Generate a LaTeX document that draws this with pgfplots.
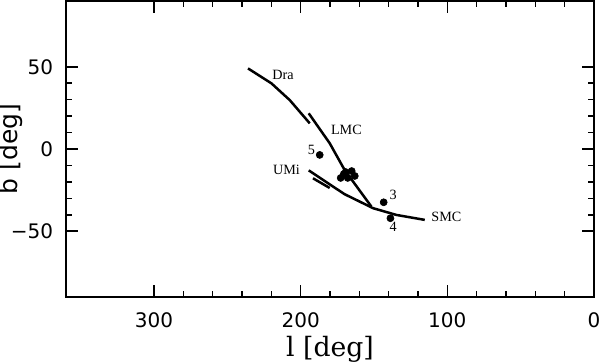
\documentclass[border=0pt]{standalone}
\usepackage{pgfplots}
\pgfplotsset{compat=1.18}
\usepackage{fontspec}
\setmainfont{DejaVu Sans}
\newfontfamily\lblfont{Liberation Serif}
\newfontfamily\xlabfont{DejaVu Serif}

\begin{document}
\begin{tikzpicture}
\begin{axis}[
    scale only axis,
    width=316.8pt, height=177.6pt,
    x dir=reverse,
    xmin=0, xmax=360, ymin=-90, ymax=90,
    xtick={0,100,200,300}, xticklabels={0,100,200,300},
    ytick={-50,0,50}, yticklabels={−50,0,50},
    minor x tick num=4, minor y tick num=4,
    tick align=inside,
    major tick length=7.2pt, minor tick length=3.6pt,
    every tick/.style={black, line width=0.9pt},
    axis line style={line width=1.2pt},
    tick label style={font=\fontsize{12}{14}\selectfont, inner sep=0pt},
    xticklabel style={anchor=north, yshift=-9pt},
    yticklabel style={anchor=east, xshift=-7.6pt},
    xlabel={l [deg]}, ylabel={b [deg]},
    xlabel style={font=\xlabfont\fontsize{16}{18}\selectfont, inner sep=0pt,
        anchor=north, at={([yshift=-23.5pt]axis description cs:0.5,0)}},
    ylabel style={font=\fontsize{15}{17}\selectfont, inner sep=0pt,
        anchor=south, at={([xshift=-25.8pt]axis description cs:0,0.5)}},
    clip=false,
]
% Dra
\addplot[black, line width=1.5pt] coordinates {
    (235.9,49) (219.9,39.9) (207.4,29.7) (193.8,15.6)
};
% LMC
\addplot[black, line width=1.5pt] coordinates {
    (194.5,21.7) (180.2,3.5) (170,-12.8) (151.8,-35)
};
% UMi - SMC
\addplot[black, line width=1.5pt] coordinates {
    (194.5,-13) (180.2,-21.5) (170,-27.5) (162,-31) (150.6,-36) (134.7,-40.1) (115.4,-43.1)
};
\addplot[black, line width=1.5pt] coordinates {
    (191.6,-17.8) (180.2,-23.7)
};
% points
\addplot[only marks, mark=*, mark size=2.1pt, black] coordinates {
    (187,-3.6) (143.4,-32.4) (138.8,-42.1)
    (172.7,-17.6) (169.3,-14.0) (165.2,-13.4) (163.1,-16.4) (167.9,-17.6) (170.6,-15.2)
};
\node[font=\lblfont\fontsize{8.5}{10}\selectfont] at (axis cs:212,45) {Dra};
\node[font=\lblfont\fontsize{8.5}{10}\selectfont] at (axis cs:168.8,11.5) {LMC};
\node[font=\lblfont\fontsize{8.5}{10}\selectfont] at (axis cs:192.6,-0.6) {5};
\node[font=\lblfont\fontsize{8.5}{10}\selectfont] at (axis cs:209.7,-12.8) {UMi};
\node[font=\lblfont\fontsize{8.5}{10}\selectfont] at (axis cs:137,-28) {3};
\node[font=\lblfont\fontsize{8.5}{10}\selectfont] at (axis cs:100.6,-41.1) {SMC};
\node[font=\lblfont\fontsize{8.5}{10}\selectfont] at (axis cs:137,-47.2) {4};
\end{axis}
\pgfresetboundingbox
\path[use as bounding box] ([shift={(-39.6pt,-40.2pt)}]current axis.south west)
    rectangle ([shift={(4.8pt,0.6pt)}]current axis.north east);
\end{tikzpicture}
\end{document}
